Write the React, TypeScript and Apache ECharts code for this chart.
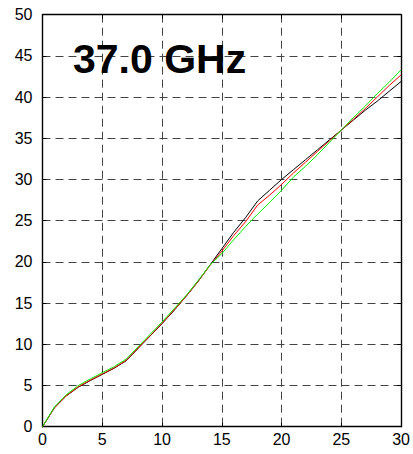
import React, { useEffect, useRef } from "react";
import * as echarts from "echarts";

const titleText = "37.0 GHz";
const xValues = [0, 1, 2, 3, 4, 5, 6, 7, 8, 9, 10, 11, 12, 13, 14, 15, 16, 17, 18, 19, 20, 21, 22, 23, 24, 25, 26, 27, 28, 29, 30];
const blackValues = [0, 2.3, 3.75, 4.8, 5.6, 6.35, 7.1, 8.0, 9.5, 11.0, 12.5, 14.1, 15.8, 17.6, 19.6, 21.6, 23.6, 25.4, 27.4, 28.7, 30.0, 31.2, 32.4, 33.6, 34.8, 36.0, 37.2, 38.4, 39.5, 40.7, 41.9];
const redValues = [0, 2.3, 3.78, 4.85, 5.65, 6.4, 7.15, 8.05, 9.55, 11.05, 12.55, 14.15, 15.8, 17.6, 19.55, 21.3, 23.2, 24.9, 26.9, 28.1, 29.4, 30.8, 32.1, 33.4, 34.7, 36.0, 37.3, 38.6, 40.0, 41.4, 42.7];
const greenValues = [0, 2.4, 3.9, 5.0, 5.8, 6.55, 7.3, 8.2, 9.7, 11.2, 12.7, 14.3, 15.9, 17.7, 19.6, 21.0, 22.7, 24.3, 25.8, 27.2, 28.7, 30.3, 31.6, 33.0, 34.5, 36.0, 37.5, 38.9, 40.4, 41.8, 43.3];
const xTicks = { min: 0, max: 30, interval: 5 };
const yTicks = { min: 0, max: 50, interval: 5 };

export default function App() {
  const ref = useRef<HTMLDivElement>(null);
  useEffect(() => {
    document.body.style.margin = "0";
    const chart = echarts.init(ref.current!, null, { renderer: "svg" });
    const font = "'Liberation Sans', Arial, sans-serif";
    const axisLine = { show: true, onZero: false, lineStyle: { color: "#000", width: 1.4 } };
    const tick = { show: true, inside: true, length: 4, lineStyle: { color: "#000", width: 1 } };
    const split = { show: true, lineStyle: { color: "#444", type: [8, 5] as any, width: 1 } };
    const mk = (vals: number[]) => xValues.map((x, i) => [x, vals[i]]);
    chart.setOption({
      animation: false,
      backgroundColor: "#fff",
      grid: { left: 42.5, right: 9.5, top: 14.7, bottom: 27.3, containLabel: false },
      xAxis: [
        {
          type: "value", ...xTicks, position: "bottom",
          axisLine, axisTick: tick, splitLine: split,
          axisLabel: { color: "#000", fontSize: 16, fontFamily: font, margin: 5 },
        },
        {
          type: "value", ...xTicks, position: "top",
          axisLine, axisTick: tick, splitLine: { show: false }, axisLabel: { show: false },
        },
      ],
      yAxis: [
        {
          type: "value", ...yTicks, position: "left",
          axisLine, axisTick: tick, splitLine: split,
          axisLabel: { color: "#000", fontSize: 16, fontFamily: font, margin: 10 },
        },
        {
          type: "value", ...yTicks, position: "right",
          axisLine, axisTick: tick, splitLine: { show: false }, axisLabel: { show: false },
        },
      ],
      graphic: [
        {
          type: "text", left: 73, top: 38, z: 100,
          style: { text: titleText, font: `bold 41px ${font}`, fill: "#000" },
        },
      ],
      series: [
        { type: "line", data: mk(blackValues), showSymbol: false, lineStyle: { color: "#000", width: 1 }, z: 3 },
        { type: "line", data: mk(redValues), showSymbol: false, lineStyle: { color: "#ff0000", width: 1 }, z: 4 },
        { type: "line", data: mk(greenValues), showSymbol: false, lineStyle: { color: "#00ee00", width: 1 }, z: 5 },
      ],
    });
    return () => chart.dispose();
  }, []);
  return <div ref={ref} style={{ width: 413, height: 454 }} />;
}
